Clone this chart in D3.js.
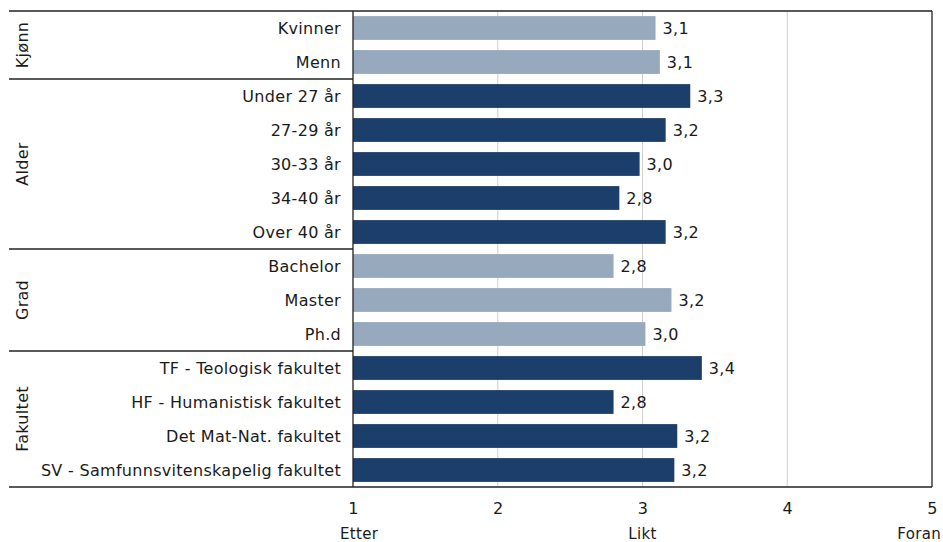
<!DOCTYPE html>
<html>
<head>
<meta charset="utf-8">
<script src="https://cdn.jsdelivr.net/npm/d3@7"></script>
<style>
  body { margin: 0; background: #fff; }
  text { font-family: "DejaVu Sans", Verdana, sans-serif; fill: #1a1a1a; letter-spacing: 0.3px; }
</style>
</head>
<body>
<script>
const categories = [
    "Kvinner", "Menn",
    "Under 27 år", "27-29 år", "30-33 år", "34-40 år", "Over 40 år",
    "Bachelor", "Master", "Ph.d",
    "TF - Teologisk fakultet", "HF - Humanistisk fakultet",
    "Det Mat-Nat. fakultet", "SV - Samfunnsvitenskapelig fakultet"
];
const values = [3.09, 3.12, 3.33, 3.16, 2.98, 2.84, 3.16, 2.80, 3.20, 3.02, 3.41, 2.80, 3.24, 3.22];
const groups = ["Kjønn", "Alder", "Grad", "Fakultet"];
const groupSizes = [2, 5, 3, 4];
const groupShade = ["light", "dark", "light", "dark"];
const xTicks = [1, 2, 3, 4, 5];
const scaleLabels = [[1, "Etter"], [3, "Likt"], [5, "Foran"]];

const colors = { light: "#96a9bd", dark: "#1b3f6a" };

const W = 943, H = 542;
const margin = {top: 11, right: 11, bottom: 55, left: 353};
const frameLeft = 9;
const fs = "16px";

const svg = d3.select("body").append("svg")
    .attr("width", W)
    .attr("height", H);

const x = d3.scaleLinear().domain([1, 5]).range([margin.left, W - margin.right]);
const y = d3.scaleBand().domain(categories)
    .range([margin.top, H - margin.bottom])
    .paddingInner(0.3).paddingOuter(0.15);

// group index for each category
const groupOf = [];
groupSizes.forEach((n, gi) => { for (let i = 0; i < n; i++) groupOf.push(gi); });

// gridlines
svg.selectAll(".grid")
    .data(xTicks.slice(1, -1))
    .enter().append("line")
    .attr("x1", d => x(d)).attr("x2", d => x(d))
    .attr("y1", margin.top).attr("y2", H - margin.bottom)
    .style("stroke", "#cfcfcf")
    .style("stroke-width", 1);

// bars
svg.selectAll(".bar")
    .data(categories)
    .enter().append("rect")
    .attr("x", x(1))
    .attr("y", d => y(d))
    .attr("width", (d, i) => x(values[i]) - x(1))
    .attr("height", y.bandwidth())
    .style("fill", (d, i) => colors[groupShade[groupOf[i]]]);

// value labels
svg.selectAll(".val")
    .data(categories)
    .enter().append("text")
    .attr("x", (d, i) => x(values[i]) + 7)
    .attr("y", d => y(d) + y.bandwidth() / 2)
    .attr("dy", "0.35em")
    .style("font-size", fs)
    .text((d, i) => values[i].toFixed(1).replace(".", ","));

// category labels
svg.selectAll(".cat")
    .data(categories)
    .enter().append("text")
    .attr("x", margin.left - 12)
    .attr("y", d => y(d) + y.bandwidth() / 2)
    .attr("dy", "0.35em")
    .attr("text-anchor", "end")
    .style("font-size", fs)
    .text(d => d);

// group separators and labels
const step = y.step();
let start = 0;
const bounds = [];
groupSizes.forEach(n => { bounds.push([start, start + n]); start += n; });

const yTop = i => i === 0 ? margin.top : y(categories[i]) - step * y.paddingInner() / 2;
const yBottom = i => i === categories.length ? H - margin.bottom : yTop(i);

svg.selectAll(".sep")
    .data(bounds.slice(0, -1))
    .enter().append("line")
    .attr("x1", frameLeft).attr("x2", margin.left)
    .attr("y1", d => yBottom(d[1])).attr("y2", d => yBottom(d[1]))
    .style("stroke", "#222").style("stroke-width", 1.3);

svg.selectAll(".grp")
    .data(groups)
    .enter().append("text")
    .attr("transform", (d, i) => {
        const cy = (yTop(bounds[i][0]) + yBottom(bounds[i][1])) / 2;
        return "translate(22," + cy + ") rotate(-90)";
    })
    .attr("dy", "0.35em")
    .attr("text-anchor", "middle")
    .style("font-size", fs)
    .text(d => d);

// frame
const frame = svg.append("g").style("stroke", "#222").style("stroke-width", 1.3);
frame.append("line").attr("x1", frameLeft).attr("x2", W - margin.right)
    .attr("y1", margin.top).attr("y2", margin.top);
frame.append("line").attr("x1", frameLeft).attr("x2", W - margin.right)
    .attr("y1", H - margin.bottom).attr("y2", H - margin.bottom);
frame.append("line").attr("x1", margin.left).attr("x2", margin.left)
    .attr("y1", margin.top).attr("y2", H - margin.bottom);
frame.append("line").attr("x1", W - margin.right).attr("x2", W - margin.right)
    .attr("y1", margin.top).attr("y2", H - margin.bottom);

// x axis tick labels
const xAxis = svg.append("g")
    .attr("transform", "translate(0," + (H - margin.bottom) + ")")
    .call(d3.axisBottom(x).tickValues(xTicks).tickSize(0).tickPadding(16)
        .tickFormat(d3.format("d")));
xAxis.select(".domain").remove();
xAxis.selectAll("text")
    .style("font-family", "'DejaVu Sans', Verdana, sans-serif")
    .style("font-size", fs)
    .style("fill", "#1a1a1a");

// scale labels, kept inside the page
const sl = svg.selectAll(".scl")
    .data(scaleLabels)
    .enter().append("text")
    .attr("y", H - 3)
    .attr("text-anchor", "middle")
    .style("font-size", "15px")
    .text(d => d[1]);
sl.attr("x", function(d) {
    const w = this.getComputedTextLength();
    return Math.max(340 + w / 2, Math.min(W - 2 - w / 2, x(d[0])));
});
</script>
</body>
</html>
